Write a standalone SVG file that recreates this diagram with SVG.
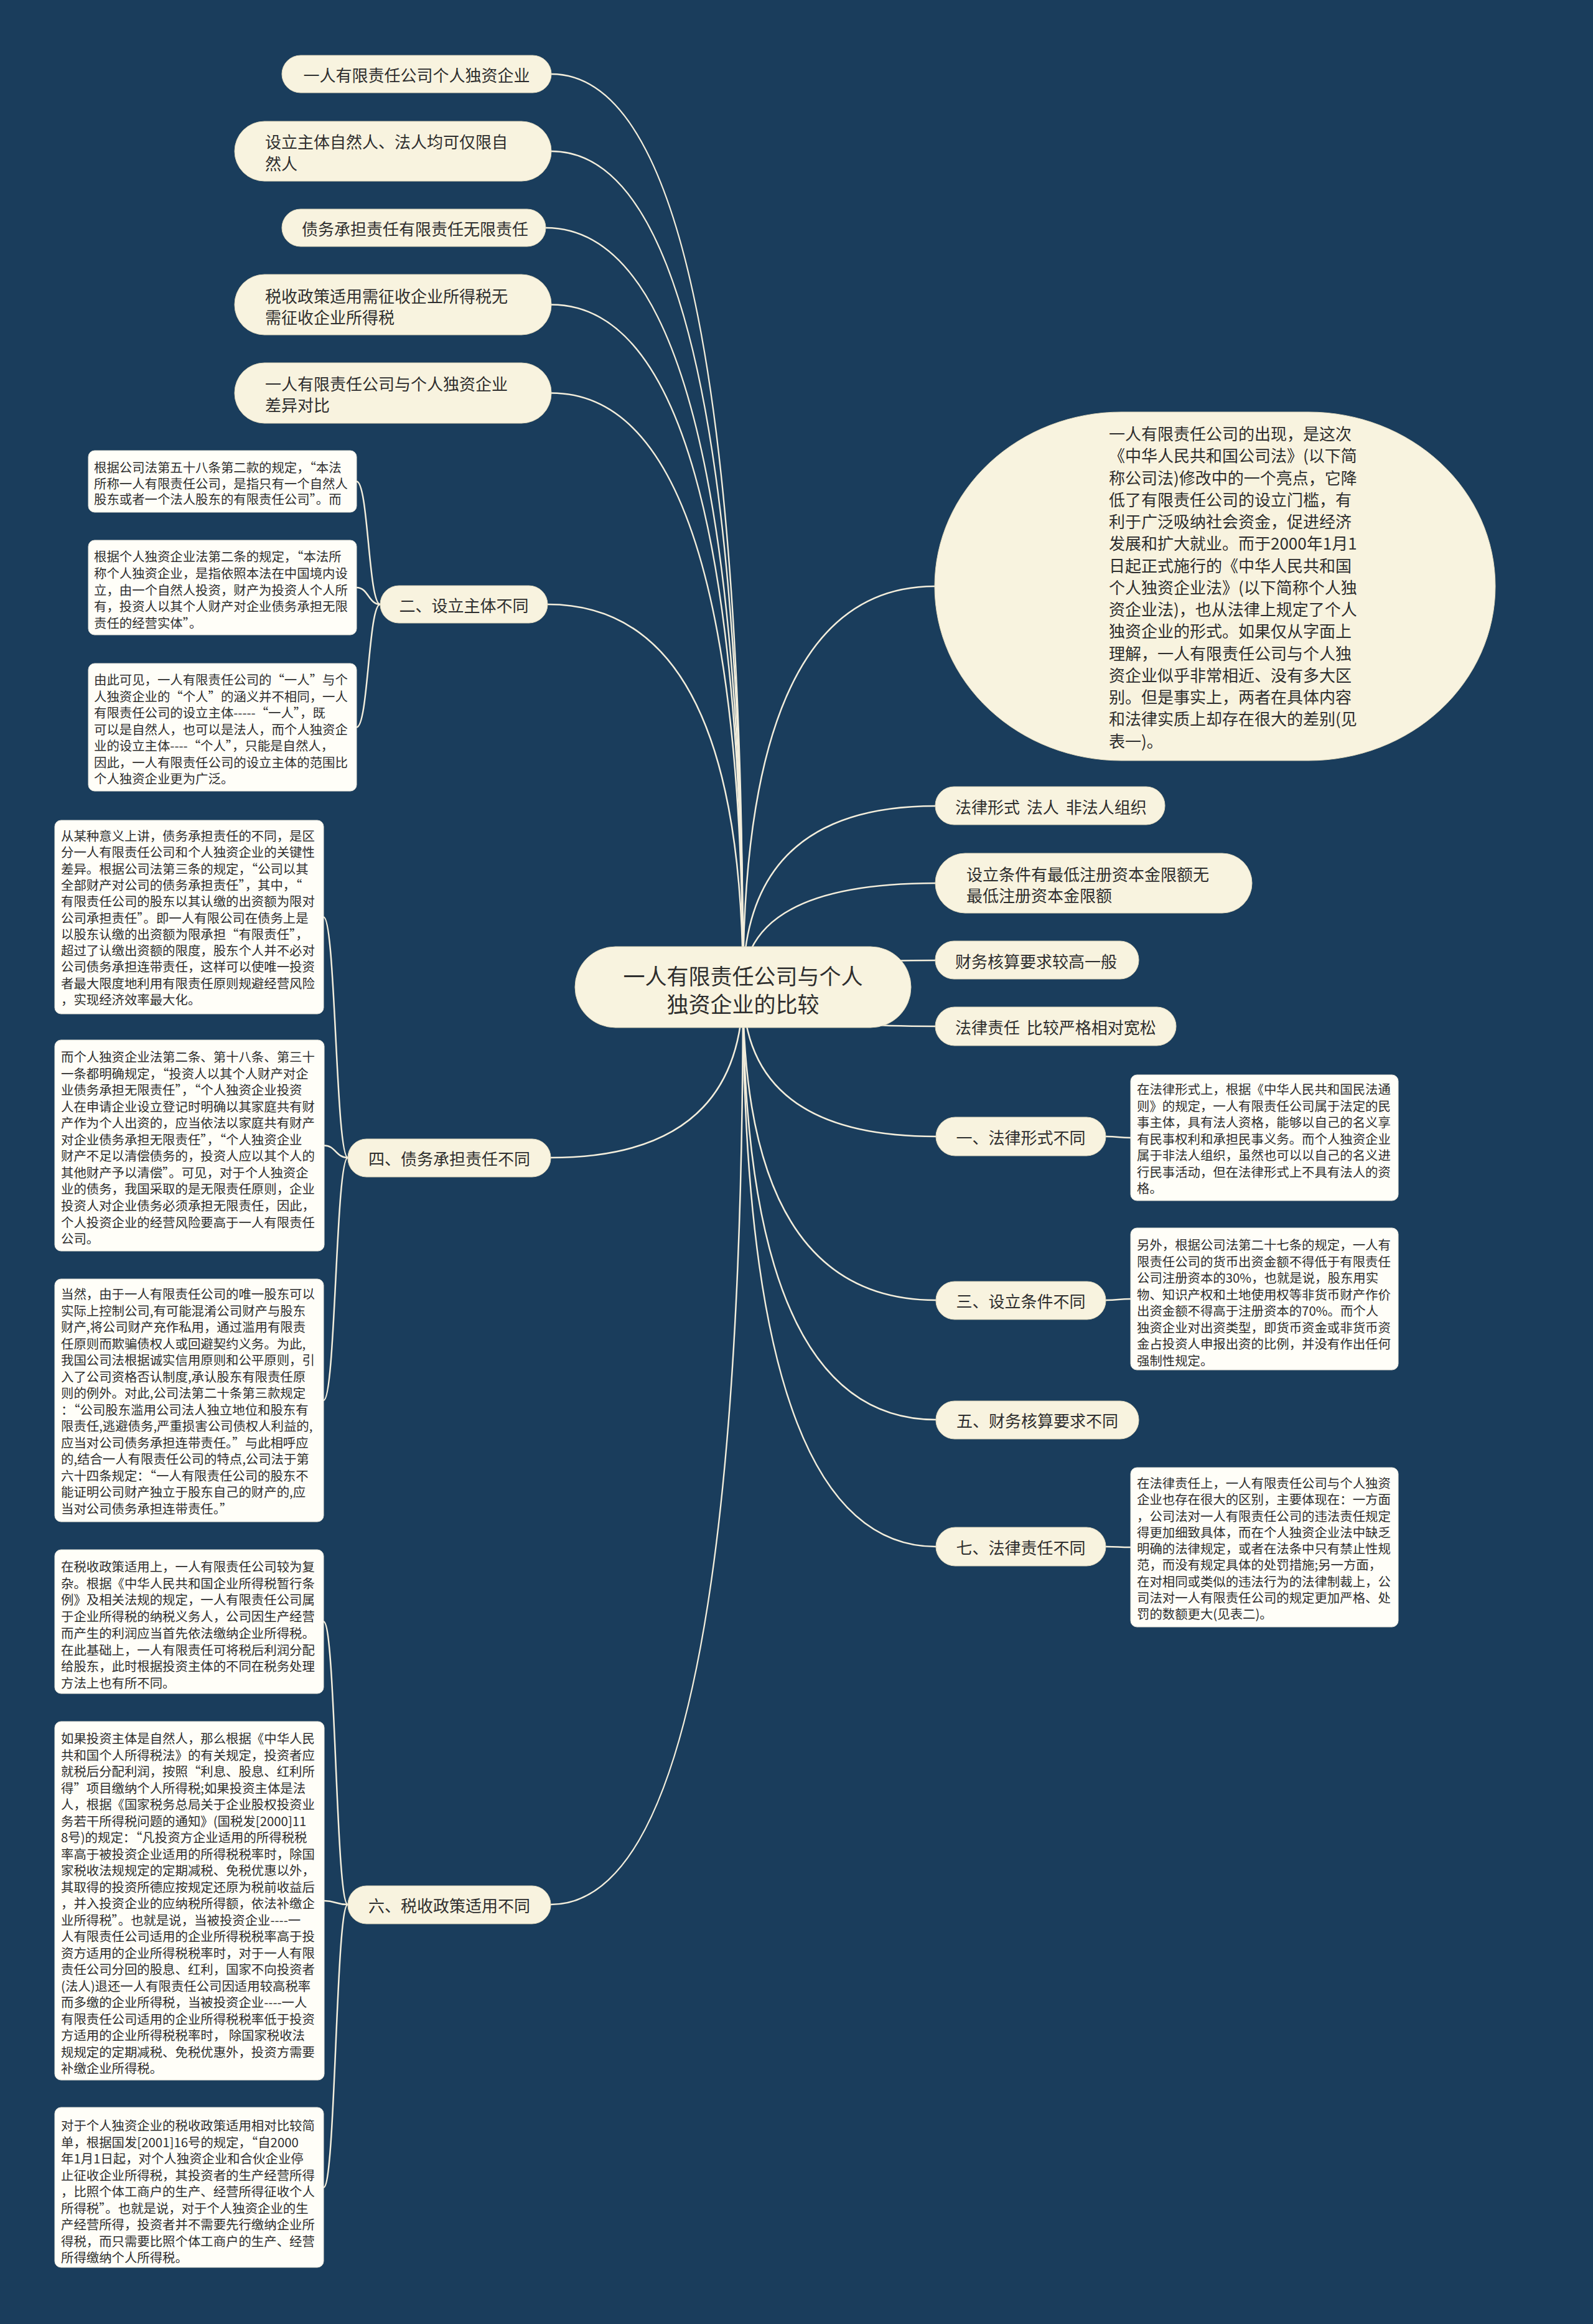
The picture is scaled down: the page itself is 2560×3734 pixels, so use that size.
<svg xmlns="http://www.w3.org/2000/svg" width="2560" height="3734" viewBox="0 0 2560 3734">
<style>
text,tspan{font-family:"Noto Sans CJK SC","Noto Sans",sans-serif;fill:#2e2e2e;dominant-baseline:central}
.n rect{fill:#f8f3df;stroke:#e2dabd;stroke-width:1}
.b rect{fill:#fffef8;stroke:#e9e6da;stroke-width:1}
.t26{font-size:26px}
.t20{font-size:20.4px}
.root{font-size:35px}
.c path{fill:none;stroke:#f3eedc;stroke-width:2.5}
.mid{text-anchor:middle}
</style>
<rect x="0" y="0" width="2560" height="3734" fill="#1a3d5c"/>
<g id="connectors" class="c">
<path d="M1194 1587 Q1194 119 886 119"/>
<path d="M1194 1587 Q1194 243 886 243"/>
<path d="M1194 1587 Q1194 366 877 366"/>
<path d="M1194 1587 Q1194 489.5 886 489.5"/>
<path d="M1194 1587 Q1194 631.5 886 631.5"/>
<path d="M1194 1587 Q1194 971 880 971"/>
<path d="M1194 1587 Q1194 1860 885 1860"/>
<path d="M1194 1587 Q1194 3060 885 3060"/>
<path d="M1194 1587 Q1194 942 1502 942"/>
<path d="M1194 1587 Q1194 1295 1503 1295"/>
<path d="M1194 1587 Q1194 1419 1503 1419"/>
<path d="M1194 1587 Q1194 1543 1503 1543"/>
<path d="M1194 1587 Q1194 1649 1503 1649"/>
<path d="M1194 1587 Q1194 1826 1504 1826"/>
<path d="M1194 1587 Q1194 2089 1504 2089"/>
<path d="M1194 1587 Q1194 2281 1504 2281"/>
<path d="M1194 1587 Q1194 2485 1504 2485"/>
<path d="M611 971 C592 971 592 773.5 573 773.5"/>
<path d="M611 971 C592 971 592 944 573 944"/>
<path d="M611 971 C592 971 592 1168.5 573 1168.5"/>
<path d="M559 1860 C539.5 1860 539.5 1473.5 520 1473.5"/>
<path d="M559 1860 C539.5 1860 539.5 1840.5 521 1840.5"/>
<path d="M559 1860 C539.5 1860 539.5 2250 520 2250"/>
<path d="M559 3060 C539.5 3060 539.5 2605.5 520 2605.5"/>
<path d="M559 3060 C539.5 3060 539.5 3054 521 3054"/>
<path d="M559 3060 C539.5 3060 539.5 3514.5 520 3514.5"/>
<path d="M1777 1826 C1797 1826 1797 1828 1817 1828"/>
<path d="M1777 2089 C1797 2089 1797 2087 1817 2087"/>
<path d="M1777 2485 C1797 2485 1797 2486 1817 2486"/>
</g>
<g id="root" class="n">
<rect x="924" y="1521" width="540" height="130" rx="65"/>
<text class="root mid" x="1194" y="1566">一人有限责任公司与个人</text>
<text class="root mid" x="1194" y="1611">独资企业的比较</text>
</g>
<g id="nA" class="n"><rect x="453" y="89" width="433" height="60" rx="30"/><text class="t26 mid" x="669.5" y="119">一人有限责任公司个人独资企业</text></g>
<g id="nB" class="n"><rect x="377" y="195" width="509" height="96" rx="48"/><text class="t26" x="426" y="226">设立主体自然人、法人均可仅限自<tspan x="426" dy="35">然人</tspan></text></g>
<g id="nC" class="n"><rect x="453" y="336" width="424" height="60" rx="30"/><text class="t26 mid" x="667" y="366">债务承担责任有限责任无限责任</text></g>
<g id="nD" class="n"><rect x="377" y="441" width="509" height="97" rx="48"/><text class="t26" x="426" y="474">税收政策适用需征收企业所得税无<tspan x="426" dy="34">需征收企业所得税</tspan></text></g>
<g id="nE" class="n"><rect x="377" y="583" width="509" height="97" rx="48"/><text class="t26" x="426" y="615">一人有限责任公司与个人独资企业<tspan x="426" dy="34">差异对比</tspan></text></g>
<g id="nIntro" class="n"><rect x="1502" y="662" width="901" height="560" rx="300" ry="280"/>
<text class="t26" x="1782" y="695">一人有限责任公司的出现，是这次<tspan x="1782" dy="35.25">《中华人民共和国公司法》(以下简</tspan><tspan x="1782" dy="35.25">称公司法)修改中的一个亮点，它降</tspan><tspan x="1782" dy="35.25">低了有限责任公司的设立门槛，有</tspan><tspan x="1782" dy="35.25">利于广泛吸纳社会资金，促进经济</tspan><tspan x="1782" dy="35.25">发展和扩大就业。而于2000年1月1</tspan><tspan x="1782" dy="35.25">日起正式施行的《中华人民共和国</tspan><tspan x="1782" dy="35.25">个人独资企业法》(以下简称个人独</tspan><tspan x="1782" dy="35.25">资企业法)，也从法律上规定了个人</tspan><tspan x="1782" dy="35.25">独资企业的形式。如果仅从字面上</tspan><tspan x="1782" dy="35.25">理解，一人有限责任公司与个人独</tspan><tspan x="1782" dy="35.25">资企业似乎非常相近、没有多大区</tspan><tspan x="1782" dy="35.25">别。但是事实上，两者在具体内容</tspan><tspan x="1782" dy="35.25">和法律实质上却存在很大的差别(见</tspan><tspan x="1782" dy="35.25">表一)。</tspan></text></g>
<g id="nF1" class="n"><rect x="1503" y="1264" width="369" height="61" rx="30"/><text class="t26" x="1535" y="1295" word-spacing="5">法律形式 法人 非法人组织</text></g>
<g id="nF2" class="n"><rect x="1503" y="1371" width="509" height="96" rx="48"/><text class="t26" x="1553" y="1403">设立条件有最低注册资本金限额无<tspan x="1553" dy="34">最低注册资本金限额</tspan></text></g>
<g id="nF3" class="n"><rect x="1503" y="1512" width="327" height="61" rx="30"/><text class="t26" x="1535" y="1543">财务核算要求较高一般</text></g>
<g id="nF4" class="n"><rect x="1503" y="1618" width="387" height="62" rx="31"/><text class="t26" x="1535" y="1649" word-spacing="5">法律责任 比较严格相对宽松</text></g>
<g id="n1" class="n"><rect x="1504" y="1795" width="273" height="62" rx="31"/><text class="t26 mid" x="1640.5" y="1826">一、法律形式不同</text></g>
<g id="n3" class="n"><rect x="1504" y="2059" width="273" height="61" rx="30"/><text class="t26 mid" x="1640.5" y="2089">三、设立条件不同</text></g>
<g id="n5" class="n"><rect x="1504" y="2251" width="326" height="61" rx="30"/><text class="t26 mid" x="1667" y="2281">五、财务核算要求不同</text></g>
<g id="n7" class="n"><rect x="1504" y="2454" width="273" height="62" rx="31"/><text class="t26 mid" x="1640.5" y="2485">七、法律责任不同</text></g>
<g id="n2" class="n"><rect x="611" y="941" width="269" height="60" rx="30"/><text class="t26 mid" x="745.5" y="971">二、设立主体不同</text></g>
<g id="n4" class="n"><rect x="559" y="1830" width="326" height="61" rx="30"/><text class="t26 mid" x="722" y="1860">四、债务承担责任不同</text></g>
<g id="n6" class="n"><rect x="559" y="3030" width="326" height="61" rx="30"/><text class="t26 mid" x="722" y="3060">六、税收政策适用不同</text></g>
<g id="b1" class="b"><rect x="1817" y="1727" width="430" height="202" rx="10"/><text class="t20" x="1827" y="1749">在法律形式上，根据《中华人民共和国民法通<tspan x="1827" dy="26.5">则》的规定，一人有限责任公司属于法定的民</tspan><tspan x="1827" dy="26.5">事主体，具有法人资格，能够以自己的名义享</tspan><tspan x="1827" dy="26.5">有民事权利和承担民事义务。而个人独资企业</tspan><tspan x="1827" dy="26.5">属于非法人组织，虽然也可以以自己的名义进</tspan><tspan x="1827" dy="26.5">行民事活动，但在法律形式上不具有法人的资</tspan><tspan x="1827" dy="26.5">格。</tspan></text></g>
<g id="b3" class="b"><rect x="1817" y="1973" width="430" height="228" rx="10"/><text class="t20" x="1827" y="1999">另外，根据公司法第二十七条的规定，一人有<tspan x="1827" dy="26.5">限责任公司的货币出资金额不得低于有限责任</tspan><tspan x="1827" dy="26.5">公司注册资本的30%，也就是说，股东用实</tspan><tspan x="1827" dy="26.5">物、知识产权和土地使用权等非货币财产作价</tspan><tspan x="1827" dy="26.5">出资金额不得高于注册资本的70%。而个人</tspan><tspan x="1827" dy="26.5">独资企业对出资类型，即货币资金或非货币资</tspan><tspan x="1827" dy="26.5">金占投资人申报出资的比例，并没有作出任何</tspan><tspan x="1827" dy="26.5">强制性规定。</tspan></text></g>
<g id="b7" class="b"><rect x="1817" y="2358" width="430" height="256" rx="10"/><text class="t20" x="1827" y="2382">在法律责任上，一人有限责任公司与个人独资<tspan x="1827" dy="26.25">企业也存在很大的区别，主要体现在：一方面</tspan><tspan x="1827" dy="26.25">，公司法对一人有限责任公司的违法责任规定</tspan><tspan x="1827" dy="26.25">得更加细致具体，而在个人独资企业法中缺乏</tspan><tspan x="1827" dy="26.25">明确的法律规定，或者在法条中只有禁止性规</tspan><tspan x="1827" dy="26.25">范，而没有规定具体的处罚措施;另一方面，</tspan><tspan x="1827" dy="26.25">在对相同或类似的违法行为的法律制裁上，公</tspan><tspan x="1827" dy="26.25">司法对一人有限责任公司的规定更加严格、处</tspan><tspan x="1827" dy="26.25">罚的数额更大(见表二)。</tspan></text></g>
<g id="b2a" class="b"><rect x="142" y="724" width="431" height="99" rx="10"/><text class="t20" x="151" y="750">根据公司法第五十八条第二款的规定，“本法<tspan x="151" dy="25.7">所称一人有限责任公司，是指只有一个自然人</tspan><tspan x="151" dy="25.7">股东或者一个法人股东的有限责任公司”。而</tspan></text></g>
<g id="b2b" class="b"><rect x="142" y="868" width="431" height="152" rx="10"/><text class="t20" x="151" y="893">根据个人独资企业法第二条的规定，“本法所<tspan x="151" dy="26.75">称个人独资企业，是指依照本法在中国境内设</tspan><tspan x="151" dy="26.75">立，由一个自然人投资，财产为投资人个人所</tspan><tspan x="151" dy="26.75">有，投资人以其个人财产对企业债务承担无限</tspan><tspan x="151" dy="26.75">责任的经营实体”。</tspan></text></g>
<g id="b2c" class="b"><rect x="142" y="1066" width="431" height="205" rx="10"/><text class="t20" x="151" y="1091">由此可见，一人有限责任公司的“一人”与个<tspan x="151" dy="26.5">人独资企业的“个人”的涵义并不相同，一人</tspan><tspan x="151" dy="26.5">有限责任公司的设立主体-----“一人”，既</tspan><tspan x="151" dy="26.5">可以是自然人，也可以是法人，而个人独资企</tspan><tspan x="151" dy="26.5">业的设立主体----“个人”，只能是自然人，</tspan><tspan x="151" dy="26.5">因此，一人有限责任公司的设立主体的范围比</tspan><tspan x="151" dy="26.5">个人独资企业更为广泛。</tspan></text></g>
<g id="b4a" class="b"><rect x="88" y="1318" width="432" height="311" rx="10"/><text class="t20" x="98" y="1342">从某种意义上讲，债务承担责任的不同，是区<tspan x="98" dy="26.3">分一人有限责任公司和个人独资企业的关键性</tspan><tspan x="98" dy="26.3">差异。根据公司法第三条的规定，“公司以其</tspan><tspan x="98" dy="26.3">全部财产对公司的债务承担责任”，其中，“</tspan><tspan x="98" dy="26.3">有限责任公司的股东以其认缴的出资额为限对</tspan><tspan x="98" dy="26.3">公司承担责任”。即一人有限公司在债务上是</tspan><tspan x="98" dy="26.3">以股东认缴的出资额为限承担“有限责任”，</tspan><tspan x="98" dy="26.3">超过了认缴出资额的限度，股东个人并不必对</tspan><tspan x="98" dy="26.3">公司债务承担连带责任，这样可以使唯一投资</tspan><tspan x="98" dy="26.3">者最大限度地利用有限责任原则规避经营风险</tspan><tspan x="98" dy="26.3">，实现经济效率最大化。</tspan></text></g>
<g id="b4b" class="b"><rect x="88" y="1671" width="433" height="339" rx="10"/><text class="t20" x="98" y="1697">而个人独资企业法第二条、第十八条、第三十<tspan x="98" dy="26.55">一条都明确规定，“投资人以其个人财产对企</tspan><tspan x="98" dy="26.55">业债务承担无限责任”，“个人独资企业投资</tspan><tspan x="98" dy="26.55">人在申请企业设立登记时明确以其家庭共有财</tspan><tspan x="98" dy="26.55">产作为个人出资的，应当依法以家庭共有财产</tspan><tspan x="98" dy="26.55">对企业债务承担无限责任”，“个人独资企业</tspan><tspan x="98" dy="26.55">财产不足以清偿债务的，投资人应以其个人的</tspan><tspan x="98" dy="26.55">其他财产予以清偿”。可见，对于个人独资企</tspan><tspan x="98" dy="26.55">业的债务，我国采取的是无限责任原则，企业</tspan><tspan x="98" dy="26.55">投资人对企业债务必须承担无限责任，因此，</tspan><tspan x="98" dy="26.55">个人投资企业的经营风险要高于一人有限责任</tspan><tspan x="98" dy="26.55">公司。</tspan></text></g>
<g id="b4c" class="b"><rect x="88" y="2055" width="432" height="390" rx="10"/><text class="t20" x="98" y="2078">当然，由于一人有限责任公司的唯一股东可以<tspan x="98" dy="26.5">实际上控制公司,有可能混淆公司财产与股东</tspan><tspan x="98" dy="26.5">财产,将公司财产充作私用，通过滥用有限责</tspan><tspan x="98" dy="26.5">任原则而欺骗债权人或回避契约义务。为此,</tspan><tspan x="98" dy="26.5">我国公司法根据诚实信用原则和公平原则，引</tspan><tspan x="98" dy="26.5">入了公司资格否认制度,承认股东有限责任原</tspan><tspan x="98" dy="26.5">则的例外。对此,公司法第二十条第三款规定</tspan><tspan x="98" dy="26.5">：“公司股东滥用公司法人独立地位和股东有</tspan><tspan x="98" dy="26.5">限责任,逃避债务,严重损害公司债权人利益的,</tspan><tspan x="98" dy="26.5">应当对公司债务承担连带责任。”与此相呼应</tspan><tspan x="98" dy="26.5">的,结合一人有限责任公司的特点,公司法于第</tspan><tspan x="98" dy="26.5">六十四条规定：“一人有限责任公司的股东不</tspan><tspan x="98" dy="26.5">能证明公司财产独立于股东自己的财产的,应</tspan><tspan x="98" dy="26.5">当对公司债务承担连带责任。”</tspan></text></g>
<g id="b6a" class="b"><rect x="88" y="2490" width="432" height="231" rx="10"/><text class="t20" x="98" y="2516">在税收政策适用上，一人有限责任公司较为复<tspan x="98" dy="26.7">杂。根据《中华人民共和国企业所得税暂行条</tspan><tspan x="98" dy="26.7">例》及相关法规的规定，一人有限责任公司属</tspan><tspan x="98" dy="26.7">于企业所得税的纳税义务人，公司因生产经营</tspan><tspan x="98" dy="26.7">而产生的利润应当首先依法缴纳企业所得税。</tspan><tspan x="98" dy="26.7">在此基础上，一人有限责任可将税后利润分配</tspan><tspan x="98" dy="26.7">给股东，此时根据投资主体的不同在税务处理</tspan><tspan x="98" dy="26.7">方法上也有所不同。</tspan></text></g>
<g id="b6b" class="b"><rect x="88" y="2766" width="433" height="576" rx="10"/><text class="t20" x="98" y="2792">如果投资主体是自然人，那么根据《中华人民<tspan x="98" dy="26.5">共和国个人所得税法》的有关规定，投资者应</tspan><tspan x="98" dy="26.5">就税后分配利润，按照“利息、股息、红利所</tspan><tspan x="98" dy="26.5">得”项目缴纳个人所得税;如果投资主体是法</tspan><tspan x="98" dy="26.5">人，根据《国家税务总局关于企业股权投资业</tspan><tspan x="98" dy="26.5">务若干所得税问题的通知》(国税发[2000]11</tspan><tspan x="98" dy="26.5">8号)的规定：“凡投资方企业适用的所得税税</tspan><tspan x="98" dy="26.5">率高于被投资企业适用的所得税税率时，除国</tspan><tspan x="98" dy="26.5">家税收法规规定的定期减税、免税优惠以外，</tspan><tspan x="98" dy="26.5">其取得的投资所德应按规定还原为税前收益后</tspan><tspan x="98" dy="26.5">，并入投资企业的应纳税所得额，依法补缴企</tspan><tspan x="98" dy="26.5">业所得税”。也就是说，当被投资企业----一</tspan><tspan x="98" dy="26.5">人有限责任公司适用的企业所得税税率高于投</tspan><tspan x="98" dy="26.5">资方适用的企业所得税税率时，对于一人有限</tspan><tspan x="98" dy="26.5">责任公司分回的股息、红利，国家不向投资者</tspan><tspan x="98" dy="26.5">(法人)退还一人有限责任公司因适用较高税率</tspan><tspan x="98" dy="26.5">而多缴的企业所得税，当被投资企业----一人</tspan><tspan x="98" dy="26.5">有限责任公司适用的企业所得税税率低于投资</tspan><tspan x="98" dy="26.5">方适用的企业所得税税率时， 除国家税收法</tspan><tspan x="98" dy="26.5">规规定的定期减税、免税优惠外，投资方需要</tspan><tspan x="98" dy="26.5">补缴企业所得税。</tspan></text></g>
<g id="b6c" class="b"><rect x="88" y="3386" width="432" height="257" rx="10"/><text class="t20" x="98" y="3414">对于个人独资企业的税收政策适用相对比较简<tspan x="98" dy="26.5">单，根据国发[2001]16号的规定，“自2000</tspan><tspan x="98" dy="26.5">年1月1日起，对个人独资企业和合伙企业停</tspan><tspan x="98" dy="26.5">止征收企业所得税，其投资者的生产经营所得</tspan><tspan x="98" dy="26.5">，比照个体工商户的生产、经营所得征收个人</tspan><tspan x="98" dy="26.5">所得税”。也就是说，对于个人独资企业的生</tspan><tspan x="98" dy="26.5">产经营所得，投资者并不需要先行缴纳企业所</tspan><tspan x="98" dy="26.5">得税，而只需要比照个体工商户的生产、经营</tspan><tspan x="98" dy="26.5">所得缴纳个人所得税。</tspan></text></g>
</svg>
